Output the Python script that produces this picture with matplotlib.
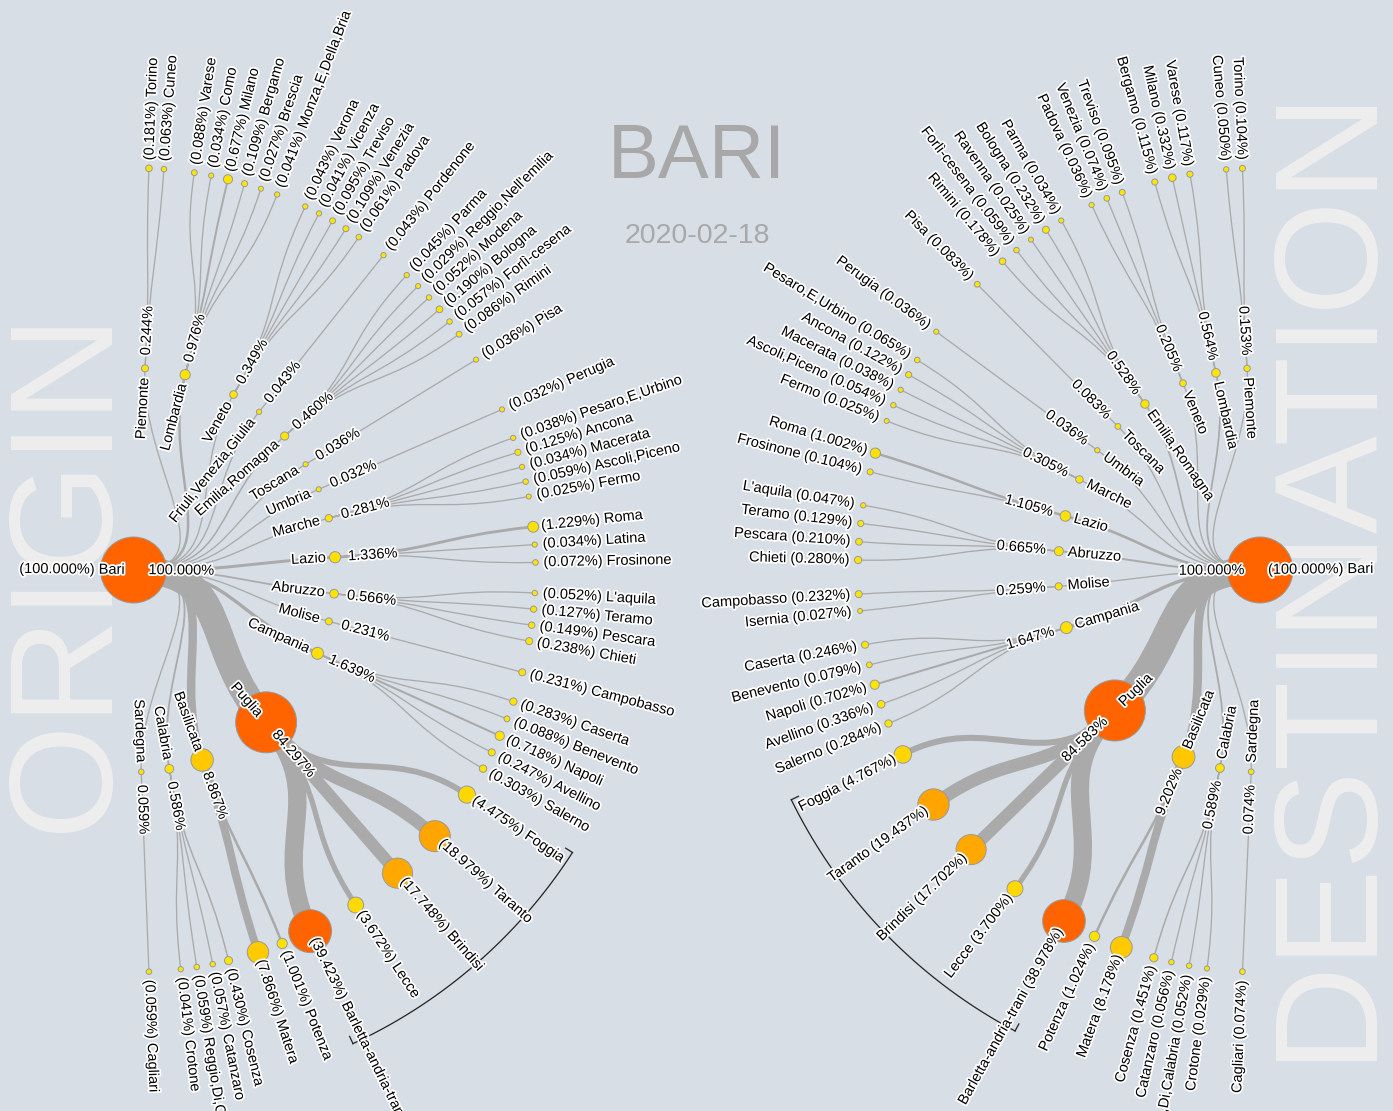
import numpy as np
import matplotlib
matplotlib.use('Agg')
import matplotlib.pyplot as plt
from matplotlib.path import Path
from matplotlib.patches import PathPatch, Circle
import matplotlib.patheffects as pe

plt.rcParams['font.family'] = ['Liberation Sans', 'DejaVu Sans']

city = 'Bari'
date = '2020-02-18'
root_pct = 100.0

# ---- ORIGIN tree (left) ----
o_regions = ['Piemonte', 'Lombardia', 'Veneto', 'Friuli,Venezia,Giulia', 'Emilia,Romagna',
             'Toscana', 'Umbria', 'Marche', 'Lazio', 'Abruzzo', 'Molise', 'Campania',
             'Puglia', 'Basilicata', 'Calabria', 'Sardegna']
o_region_pct = [0.244, 0.976, 0.349, 0.043, 0.460, 0.036, 0.032, 0.281, 1.336, 0.566,
                0.231, 1.639, 84.297, 8.867, 0.586, 0.059]
o_cities = [
    ['Torino', 'Cuneo'],
    ['Varese', 'Como', 'Milano', 'Bergamo', 'Brescia', 'Monza,E,Della,Bria'],
    ['Verona', 'Vicenza', 'Treviso', 'Venezia', 'Padova'],
    ['Pordenone'],
    ['Parma', "Reggio,Nell'emilia", 'Modena', 'Bologna', 'Forlì-cesena', 'Rimini'],
    ['Pisa'],
    ['Perugia'],
    ['Pesaro,E,Urbino', 'Ancona', 'Macerata', 'Ascoli,Piceno', 'Fermo'],
    ['Roma', 'Latina', 'Frosinone'],
    ["L'aquila", 'Teramo', 'Pescara', 'Chieti'],
    ['Campobasso'],
    ['Caserta', 'Benevento', 'Napoli', 'Avellino', 'Salerno'],
    ['Foggia', 'Taranto', 'Brindisi', 'Lecce', 'Barletta-andria-trani'],
    ['Potenza', 'Matera'],
    ['Cosenza', 'Catanzaro', 'Reggio,Di,Calabria', 'Crotone'],
    ['Cagliari'],
]
o_city_pct = [
    [0.181, 0.063],
    [0.088, 0.034, 0.677, 0.109, 0.027, 0.041],
    [0.043, 0.041, 0.095, 0.109, 0.061],
    [0.043],
    [0.045, 0.029, 0.052, 0.190, 0.057, 0.086],
    [0.036],
    [0.032],
    [0.038, 0.125, 0.034, 0.059, 0.025],
    [1.229, 0.034, 0.072],
    [0.052, 0.127, 0.149, 0.238],
    [0.231],
    [0.283, 0.088, 0.718, 0.247, 0.303],
    [4.475, 18.979, 17.748, 3.672, 39.423],
    [1.001, 7.866],
    [0.430, 0.057, 0.059, 0.041],
    [0.059],
]

# ---- DESTINATION tree (right) ----
d_regions = ['Piemonte', 'Lombardia', 'Veneto', 'Emilia,Romagna', 'Toscana', 'Umbria',
             'Marche', 'Lazio', 'Abruzzo', 'Molise', 'Campania', 'Puglia', 'Basilicata',
             'Calabria', 'Sardegna']
d_region_pct = [0.153, 0.564, 0.205, 0.528, 0.083, 0.036, 0.305, 1.105, 0.665, 0.259,
                1.647, 84.583, 9.202, 0.589, 0.074]
d_cities = [
    ['Torino', 'Cuneo'],
    ['Varese', 'Milano', 'Bergamo'],
    ['Treviso', 'Venezia', 'Padova'],
    ['Parma', 'Bologna', 'Ravenna', 'Forlì-cesena', 'Rimini'],
    ['Pisa'],
    ['Perugia'],
    ['Pesaro,E,Urbino', 'Ancona', 'Macerata', 'Ascoli,Piceno', 'Fermo'],
    ['Roma', 'Frosinone'],
    ["L'aquila", 'Teramo', 'Pescara', 'Chieti'],
    ['Campobasso', 'Isernia'],
    ['Caserta', 'Benevento', 'Napoli', 'Avellino', 'Salerno'],
    ['Foggia', 'Taranto', 'Brindisi', 'Lecce', 'Barletta-andria-trani'],
    ['Potenza', 'Matera'],
    ['Cosenza', 'Catanzaro', 'Reggio,Di,Calabria', 'Crotone'],
    ['Cagliari'],
]
d_city_pct = [
    [0.104, 0.050],
    [0.117, 0.332, 0.115],
    [0.095, 0.074, 0.036],
    [0.034, 0.232, 0.025, 0.059, 0.178],
    [0.083],
    [0.036],
    [0.065, 0.122, 0.038, 0.054, 0.025],
    [1.002, 0.104],
    [0.047, 0.129, 0.210, 0.280],
    [0.232, 0.027],
    [0.246, 0.079, 0.702, 0.336, 0.284],
    [4.767, 19.437, 17.702, 3.700, 38.978],
    [1.024, 8.178],
    [0.451, 0.056, 0.052, 0.029],
    [0.074],
]

W, H = 1393, 1111
BG = '#d8dee6'
LINK = '#aaaaaa'
R1, R2 = 202, 402
FS = 10.5
halo = [pe.withStroke(linewidth=2.6, foreground='white')]


def node_r(p):
    return 2 + 31 * np.sqrt(p / 100)


def link_w(p):
    return max(1.3, 3.0 * np.sqrt(p) - 0.5)


def node_color(p):
    g = 230 - 130 * min(p / 38, 1)
    return (1.0, g / 255, 0.0)


def layout(region_pct, city_pct, half_span):
    # tidy-tree style: sibling gap grows with parent size, wider gap between groups
    leaf_ang, reg_ang = [], []
    last_leaf = last_reg = None
    for rp, cps in zip(region_pct, city_pct):
        step = 1.42 + 0.196 * node_r(rp)
        width = step * (len(cps) - 1)
        if last_leaf is None:
            start = 0.0
        else:
            start = max(last_leaf + 4.3, last_reg + 7.9 - width / 2)
        angs = [start + i * step for i in range(len(cps))]
        leaf_ang.append(angs)
        reg_ang.append(start + width / 2)
        last_leaf, last_reg = angs[-1], reg_ang[-1]
    k = 2 * half_span / last_leaf
    leaf_ang = [[a * k - half_span for a in angs] for angs in leaf_ang]
    reg_ang = [a * k - half_span for a in reg_ang]
    return (reg_ang[0] + reg_ang[-1]) / 2, reg_ang, leaf_ang


def draw_tree(ax, cx, cy, side, regions, region_pct, cities, city_pct, half_span):
    root_ang, reg_ang, leaf_ang = layout(region_pct, city_pct, half_span)

    def pos(a, r):
        t = np.radians(a)
        return cx + side * r * np.cos(t), cy + r * np.sin(t)

    def link(a0, r0, a1, r1, p):
        rm = (r0 + r1) / 2
        pts = [pos(a0, r0), pos(a0, rm), pos(a1, rm), pos(a1, r1)]
        path = Path(pts, [Path.MOVETO, Path.CURVE4, Path.CURVE4, Path.CURVE4])
        ax.add_patch(PathPatch(path, fill=False, ec=LINK, lw=link_w(p) * 0.72,
                               capstyle='butt', zorder=1))

    def node(a, r, p):
        ax.add_patch(Circle(pos(a, r), node_r(p), fc=node_color(p), ec='#999999',
                            lw=0.7, zorder=3))

    def label(a, r, off, txt, outward):
        rot = -a if side > 0 else a
        if side > 0:
            ha = 'left' if outward else 'right'
        else:
            ha = 'right' if outward else 'left'
        x, y = pos(a, r + off if outward else r - off)
        ax.text(x, y, txt, rotation=rot, rotation_mode='anchor', ha=ha, va='center',
                fontsize=FS, color='black', path_effects=halo, zorder=5)

    # links
    for i, rp in enumerate(region_pct):
        link(root_ang, 0, reg_ang[i], R1, rp)
        for a, cp in zip(leaf_ang[i], city_pct[i]):
            link(reg_ang[i], R1, a, R2, cp)

    # nodes
    node(root_ang, 0, root_pct)
    for i, rp in enumerate(region_pct):
        node(reg_ang[i], R1, rp)
        for a, cp in zip(leaf_ang[i], city_pct[i]):
            node(a, R2, cp)

    # labels
    label(root_ang, 0, 8, f'({root_pct:.3f}%) {city}', False)
    label(root_ang, 0, 15, f'{root_pct:.3f}%', True)
    for i, rp in enumerate(region_pct):
        label(reg_ang[i], R1, 9, regions[i], False)
        label(reg_ang[i], R1, 13, f'{rp:.3f}%', True)
        for a, nm, cp in zip(leaf_ang[i], cities[i], city_pct[i]):
            if side > 0:
                label(a, R2, 8, f'({cp:.3f}%) {nm}', True)
            else:
                label(a, R2, 8, f'{nm} ({cp:.3f}%)', True)

    # bracket around the home-region provinces
    k = regions.index('Puglia')
    arc = np.linspace(leaf_ang[k][0] - 1.2, leaf_ang[k][-1] + 1.2, 80)
    xs, ys = zip(*[pos(a, 522) for a in arc])
    ax.plot(xs, ys, color='#222222', lw=0.9, zorder=2)
    for a in (arc[0], arc[-1]):
        (x0, y0), (x1, y1) = pos(a, 522), pos(a, 514)
        ax.plot([x0, x1], [y0, y1], color='#222222', lw=0.9, zorder=2)


fig = plt.figure(figsize=(W / 100, H / 100), dpi=100, facecolor=BG)
ax = fig.add_axes([0, 0, 1, 1])
ax.set_facecolor(BG)
ax.set_xlim(0, W)
ax.set_ylim(H, 0)
ax.axis('off')

# big background words
ax.text(68, 570, 'ORIGIN', rotation=90, ha='center', va='center', fontsize=106,
        color='#eeeeee', zorder=0)
ax.text(1328, 570, 'DESTINATION', rotation=90, ha='center', va='center', fontsize=106,
        color='#eeeeee', zorder=0)

ax.text(697, 158, city.upper(), ha='center', va='center', fontsize=55, color='#a8a8a8')
ax.text(697, 236, date, ha='center', va='center', fontsize=20.5, color='#a8a8a8')

draw_tree(ax, 133.5, 570, 1, o_regions, o_region_pct, o_cities, o_city_pct, 87.8)
draw_tree(ax, 1260, 570, -1, d_regions, d_region_pct, d_cities, d_city_pct, 87.5)

fig.savefig('out.png', dpi=100, facecolor=BG)
